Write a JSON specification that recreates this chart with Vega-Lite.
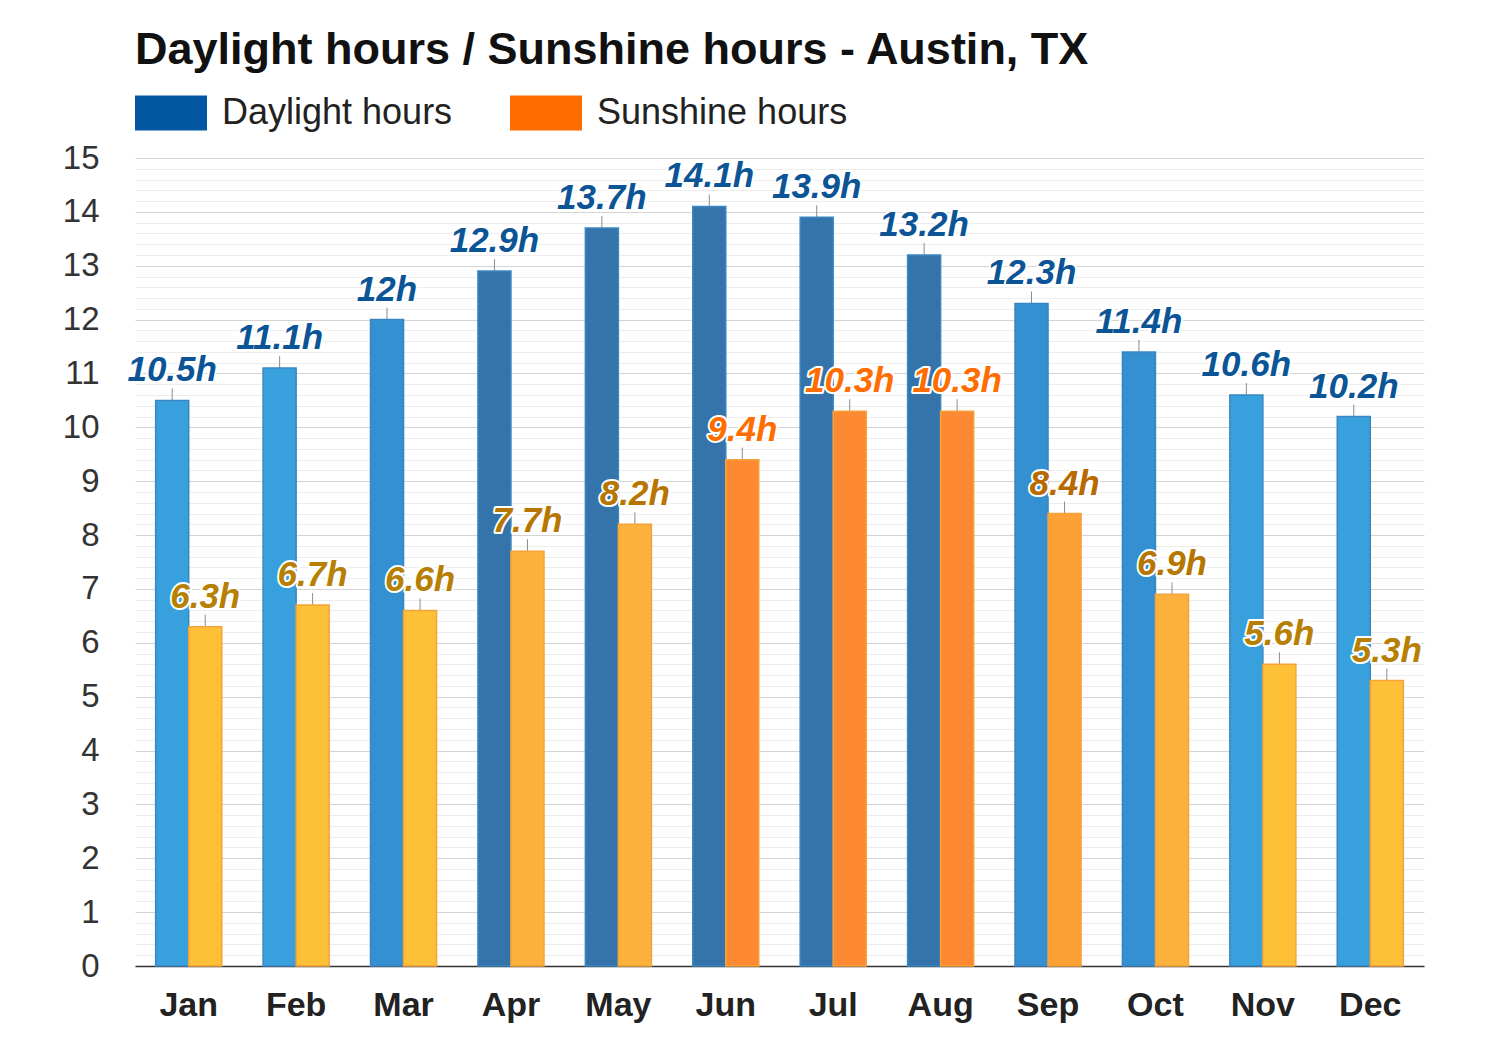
{
  "$schema": "https://vega.github.io/schema/vega-lite/v6.json",
  "autosize": {"type": "none"},
  "width": 1289,
  "height": 808,
  "padding": {"left": 135, "top": 158, "right": 76, "bottom": 84},
  "background": "#ffffff",
  "config": {
    "font": "Liberation Sans",
    "view": {"stroke": null}
  },
  "data": {
    "values": [
      {"month": "Jan", "series": "Daylight hours", "hours": 10.5},
      {"month": "Feb", "series": "Daylight hours", "hours": 11.1},
      {"month": "Mar", "series": "Daylight hours", "hours": 12},
      {"month": "Apr", "series": "Daylight hours", "hours": 12.9},
      {"month": "May", "series": "Daylight hours", "hours": 13.7},
      {"month": "Jun", "series": "Daylight hours", "hours": 14.1},
      {"month": "Jul", "series": "Daylight hours", "hours": 13.9},
      {"month": "Aug", "series": "Daylight hours", "hours": 13.2},
      {"month": "Sep", "series": "Daylight hours", "hours": 12.3},
      {"month": "Oct", "series": "Daylight hours", "hours": 11.4},
      {"month": "Nov", "series": "Daylight hours", "hours": 10.6},
      {"month": "Dec", "series": "Daylight hours", "hours": 10.2},
      {"month": "Jan", "series": "Sunshine hours", "hours": 6.3},
      {"month": "Feb", "series": "Sunshine hours", "hours": 6.7},
      {"month": "Mar", "series": "Sunshine hours", "hours": 6.6},
      {"month": "Apr", "series": "Sunshine hours", "hours": 7.7},
      {"month": "May", "series": "Sunshine hours", "hours": 8.2},
      {"month": "Jun", "series": "Sunshine hours", "hours": 9.4},
      {"month": "Jul", "series": "Sunshine hours", "hours": 10.3},
      {"month": "Aug", "series": "Sunshine hours", "hours": 10.3},
      {"month": "Sep", "series": "Sunshine hours", "hours": 8.4},
      {"month": "Oct", "series": "Sunshine hours", "hours": 6.9},
      {"month": "Nov", "series": "Sunshine hours", "hours": 5.6},
      {"month": "Dec", "series": "Sunshine hours", "hours": 5.3}
    ]
  },
  "transform": [{"calculate": "datum.hours + 'h'", "as": "label"}],
  "encoding": {
    "x": {
      "field": "month",
      "type": "nominal",
      "sort": ["Jan", "Feb", "Mar", "Apr", "May", "Jun", "Jul", "Aug", "Sep", "Oct", "Nov", "Dec"],
      "scale": {"paddingInner": 0.385, "paddingOuter": 0.1925},
      "axis": {
        "title": null,
        "labelAngle": 0,
        "labelFontSize": 34,
        "labelFontWeight": "bold",
        "labelColor": "#222222",
        "labelPadding": 22,
        "ticks": false,
        "domainColor": "#333333",
        "domainWidth": 1.5,
        "grid": false
      }
    },
    "xOffset": {
      "field": "series",
      "type": "nominal",
      "scale": {"domain": ["Daylight hours", "Sunshine hours"], "paddingInner": 0, "paddingOuter": 0}
    },
    "y": {
      "field": "hours",
      "type": "quantitative",
      "scale": {"domain": [0, 15], "nice": false, "zero": true},
      "axis": {
        "title": null,
        "tickCount": 75,
        "labelOverlap": false,
        "labelExpr": "abs(datum.value - round(datum.value)) < 0.001 ? format(datum.value, 'd') : ''",
        "labelFontSize": 33,
        "labelColor": "#333333",
        "labelPadding": 36,
        "ticks": false,
        "domain": false,
        "grid": true,
        "gridColor": {
          "condition": {"test": "abs(datum.value - round(datum.value)) < 0.001", "value": "#d4d4d4"},
          "value": "#ededed"
        },
        "gridWidth": 1
      }
    }
  },
  "layer": [
    {
      "mark": {"type": "rule", "color": "#8c8c8c", "strokeWidth": 1, "y2Offset": -12},
      "encoding": {"y2": {"field": "hours"}}
    },
    {
      "transform": [{"filter": "datum.series === 'Daylight hours'"}],
      "mark": {"type": "bar", "stroke": "#3a86c2", "strokeWidth": 1.5},
      "encoding": {
        "fill": {
          "field": "hours",
          "type": "quantitative",
          "scale": {"type": "threshold", "domain": [11.2, 12.6], "range": ["#38a0dd", "#3490d0", "#3574aa"]},
          "legend": null
        }
      }
    },
    {
      "transform": [{"filter": "datum.series === 'Sunshine hours'"}],
      "mark": {"type": "bar", "stroke": "#f6a23a", "strokeWidth": 1.5},
      "encoding": {
        "fill": {
          "field": "hours",
          "type": "quantitative",
          "scale": {"type": "threshold", "domain": [6.8, 8.3, 9], "range": ["#fdc037", "#fbb13c", "#fba136", "#fd8a32"]},
          "legend": null
        }
      }
    },
    {
      "mark": {"type": "text", "font": "Liberation Sans", "fontSize": 35, "fontWeight": "bold", "fontStyle": "italic", "baseline": "alphabetic", "dy": -19, "fill": "#ffffff", "stroke": "#ffffff", "strokeWidth": 4, "strokeJoin": "round"},
      "encoding": {"text": {"field": "label"}}
    },
    {
      "transform": [{"filter": "datum.series === 'Daylight hours'"}],
      "mark": {"type": "text", "font": "Liberation Sans", "fontSize": 35, "fontWeight": "bold", "fontStyle": "italic", "baseline": "alphabetic", "dy": -19, "fill": "#0b5597"},
      "encoding": {"text": {"field": "label"}}
    },
    {
      "transform": [{"filter": "datum.series === 'Sunshine hours'"}],
      "mark": {"type": "text", "font": "Liberation Sans", "fontSize": 35, "fontWeight": "bold", "fontStyle": "italic", "baseline": "alphabetic", "dy": -19},
      "encoding": {
        "text": {"field": "label"},
        "fill": {
          "field": "hours",
          "type": "quantitative",
          "scale": {"type": "threshold", "domain": [6.8, 8.3, 9], "range": ["#b78003", "#b67600", "#b86a00", "#ff6d00"]},
          "legend": null
        }
      }
    },
    {
      "mark": {"type": "bar", "opacity": 0},
      "encoding": {
        "xOffset": null,
        "color": {
          "field": "series",
          "type": "nominal",
          "scale": {"domain": ["Daylight hours", "Sunshine hours"], "range": ["#0357a0", "#ff6d00"]},
          "legend": {
            "title": "Daylight hours / Sunshine hours - Austin, TX",
            "titleOrient": "top",
            "titleAnchor": "start",
            "titleFontSize": 45,
            "titleFontWeight": "bold",
            "titleColor": "#111111",
            "titleLimit": 1400,
            "titlePadding": 4,
            "orient": "top",
            "direction": "horizontal",
            "offset": 27,
            "padding": 0,
            "symbolType": "M-1,-0.486H1V0.486H-1Z",
            "symbolSize": 5184,
            "symbolOpacity": 1,
            "symbolStrokeWidth": 0,
            "labelFontSize": 36,
            "labelColor": "#222222",
            "labelOffset": 15,
            "columnPadding": 57,
            "labelLimit": 400
          }
        }
      }
    }
  ],
  "resolve": {"scale": {"fill": "independent"}}
}
